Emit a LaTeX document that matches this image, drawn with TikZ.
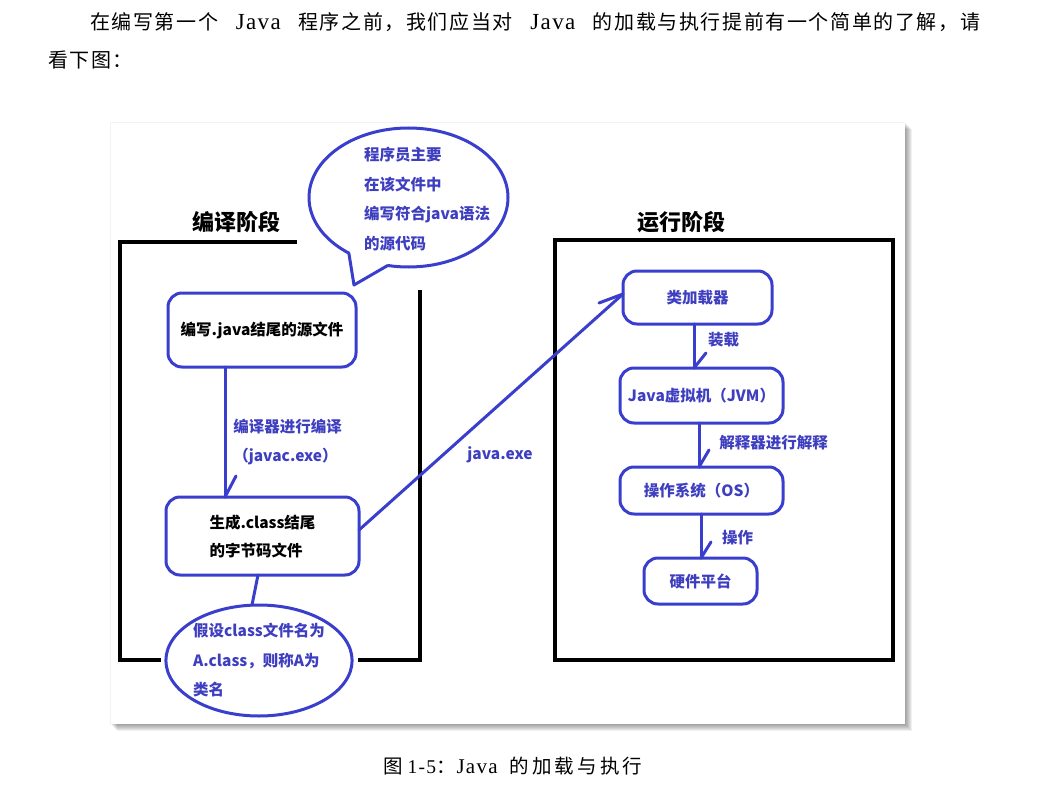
\documentclass[tikz,border=0pt]{standalone}
\usepackage{fontspec}
\setmainfont{Liberation Serif}
\newfontfamily\cjk{Noto Sans CJK SC}
\newfontfamily\cjkbody{Noto Sans CJK SC}[LetterSpace=8]
\newfontfamily\tmsbody{Liberation Serif}[LetterSpace=6]
\newfontfamily\cjkcap{Noto Sans CJK SC}[LetterSpace=16]
\newfontfamily\tmscap{Liberation Serif}[LetterSpace=6]
\usetikzlibrary{shapes.geometric,calc}
\definecolor{dblue}{RGB}{58,62,204}
\definecolor{tblue}{RGB}{62,62,192}
\begin{document}
\begin{tikzpicture}[x=1pt,y=-1pt,
  bl/.style={draw=dblue, line width=3pt, line cap=round, line join=round},
  frame/.style={draw=black, line width=3.5pt},
  rbox/.style={draw=dblue, line width=3pt, rounded corners=14pt, inner sep=0pt, outer sep=0pt},
  btxt/.style={font=\cjk\bfseries\fontsize{15.5pt}{29.5pt}\selectfont, text=tblue, inner sep=0pt},
  ktxt/.style={font=\cjk\bfseries\fontsize{15.5pt}{28pt}\selectfont, text=black, inner sep=0pt},
  title/.style={font=\cjk\bfseries\fontsize{22pt}{26pt}\selectfont, inner sep=0pt},
  body/.style={font=\fontsize{20pt}{24pt}\selectfont, inner sep=0pt, anchor=west},
  captxt/.style={font=\fontsize{19.5pt}{24pt}\selectfont, inner sep=0pt, anchor=west},
]
\useasboundingbox (0,0) rectangle (1053,808);
\fill[white] (0,0) rectangle (1053,808);

% body text
\node[body] (p1) at (90,22) {\makebox[890pt][s]{\cjkbody 在编写第一个 {\tmsbody\fontsize{23pt}{24pt}\selectfont Java} \cjkbody 程序之前，我们应当对 {\tmsbody\fontsize{23pt}{24pt}\selectfont Java} \cjkbody 的加载与执行提前有一个简单的了解，请}};
\node[body] (p2) at (48,60) {\cjkbody 看下图：};

% panel with shadow
\foreach \i in {7,6,5,4,3,2,1}
  \fill[black,opacity=0.06] (110+\i,122+\i) rectangle (905+\i,724+\i);
\fill[white] (110,122) rectangle (905,724);
\draw[black!5, line width=0.6pt] (110,724) -- (110,122) -- (905,122);

% frames
\draw[frame] (297,242) -- (120,242) -- (120,660) -- (161,660);
\draw[frame] (358,660) -- (420,660) -- (420,290);
\draw[frame] (555,240) rectangle (893,660);

% titles
\node[title] (t1) at (236,222) {编译阶段};
\node[title] (t2) at (681.5,222) {运行阶段};

% speech bubble
\node[ellipse, draw=dblue, line width=3pt, minimum width=199pt, minimum height=139pt, inner sep=0pt, outer sep=0pt] (bub) at (408.5,197.5) {};
\coordinate (tip) at (354,285);
\fill[white] (bub.center) -- (bub.223) -- (tip) -- (bub.253) -- cycle;
\draw[bl] (bub.223) -- (tip) -- (bub.253);
\node[btxt, align=left, anchor=west] (bubt) at (364,199) {程序员主要\\在该文件中\\编写符合java语法\\的源代码};

% left stage
\node[rbox, ktxt, minimum width=188pt, minimum height=74pt] (b1) at (262,330) {编写.java结尾的源文件};
\node[rbox, ktxt, minimum width=193pt, minimum height=78pt, align=left] (b2) at (262.5,536) {生成.class结尾\\的字节码文件};
\coordinate (c1) at (225,0);
\draw[bl] (b1.south -| c1) -- (b2.north -| c1) coordinate (e1t);
\draw[bl] (e1t) -- ++(11,-21);
\node[btxt] (l1) at (287.5,427) {编译器进行编译};
\node[btxt] (l2) at (285.5,457) {（javac.exe）};

\node[ellipse, draw=dblue, line width=3pt, minimum width=184pt, minimum height=111pt, btxt, align=left, outer sep=0pt] (e1) at (259,660.5) {假设class文件名为\\A.class，则称A为\\类名};
\draw[bl] ([xshift=-4.5pt]b2.south) -- ([xshift=-7pt]e1.north);

% right stage
\node[rbox, btxt, minimum width=149pt, minimum height=53pt] (r1) at (697.5,297.5) {类加载器};
\node[rbox, btxt, minimum width=163pt, minimum height=55pt] (r2) at (701.5,395.5) {Java虚拟机（JVM）};
\node[rbox, btxt, minimum width=163pt, minimum height=47pt] (r3) at (701.5,490.5) {操作系统（OS）};
\node[rbox, btxt, minimum width=113pt, minimum height=46pt] (r4) at (700.5,581) {硬件平台};

\coordinate (c2) at (694,0);
\coordinate (c3) at (699,0);
\coordinate (c4) at (701,0);
\draw[bl] (r1.south -| c2) -- (r2.north -| c2) coordinate (e2t);
\draw[bl] (e2t) -- ++(12,-15);
\draw[bl] (r2.south -| c3) -- (r3.north -| c3) coordinate (e3t);
\draw[bl] (e3t) -- ++(10,-17);
\draw[bl] (r3.south -| c4) -- (r4.north -| c4) coordinate (e4t);
\draw[bl] (e4t) -- ++(10,-16);
\node[btxt] (l4) at (723.5,340) {装载};
\node[btxt] (l5) at (773.5,443) {解释器进行解释};
\node[btxt] (l6) at (737.5,538) {操作};

% java.exe arrow
\draw[bl] ([yshift=6pt]b2.east) -- ([yshift=3.5pt]r1.west) coordinate (e5t);
\draw[bl] (e5t) -- ++(-24,9);
\node[btxt] (l3) at (500,455) {java.exe};

% caption
\node[captxt] (cap) at (383,766) {{\cjkcap 图}\kern5pt{\tmscap 1-5}{\cjkcap ：}\kern1pt{\tmscap\fontsize{21pt}{24pt}\selectfont Java}\kern12pt{\cjkcap 的加载与执行}};
\end{tikzpicture}
\end{document}
